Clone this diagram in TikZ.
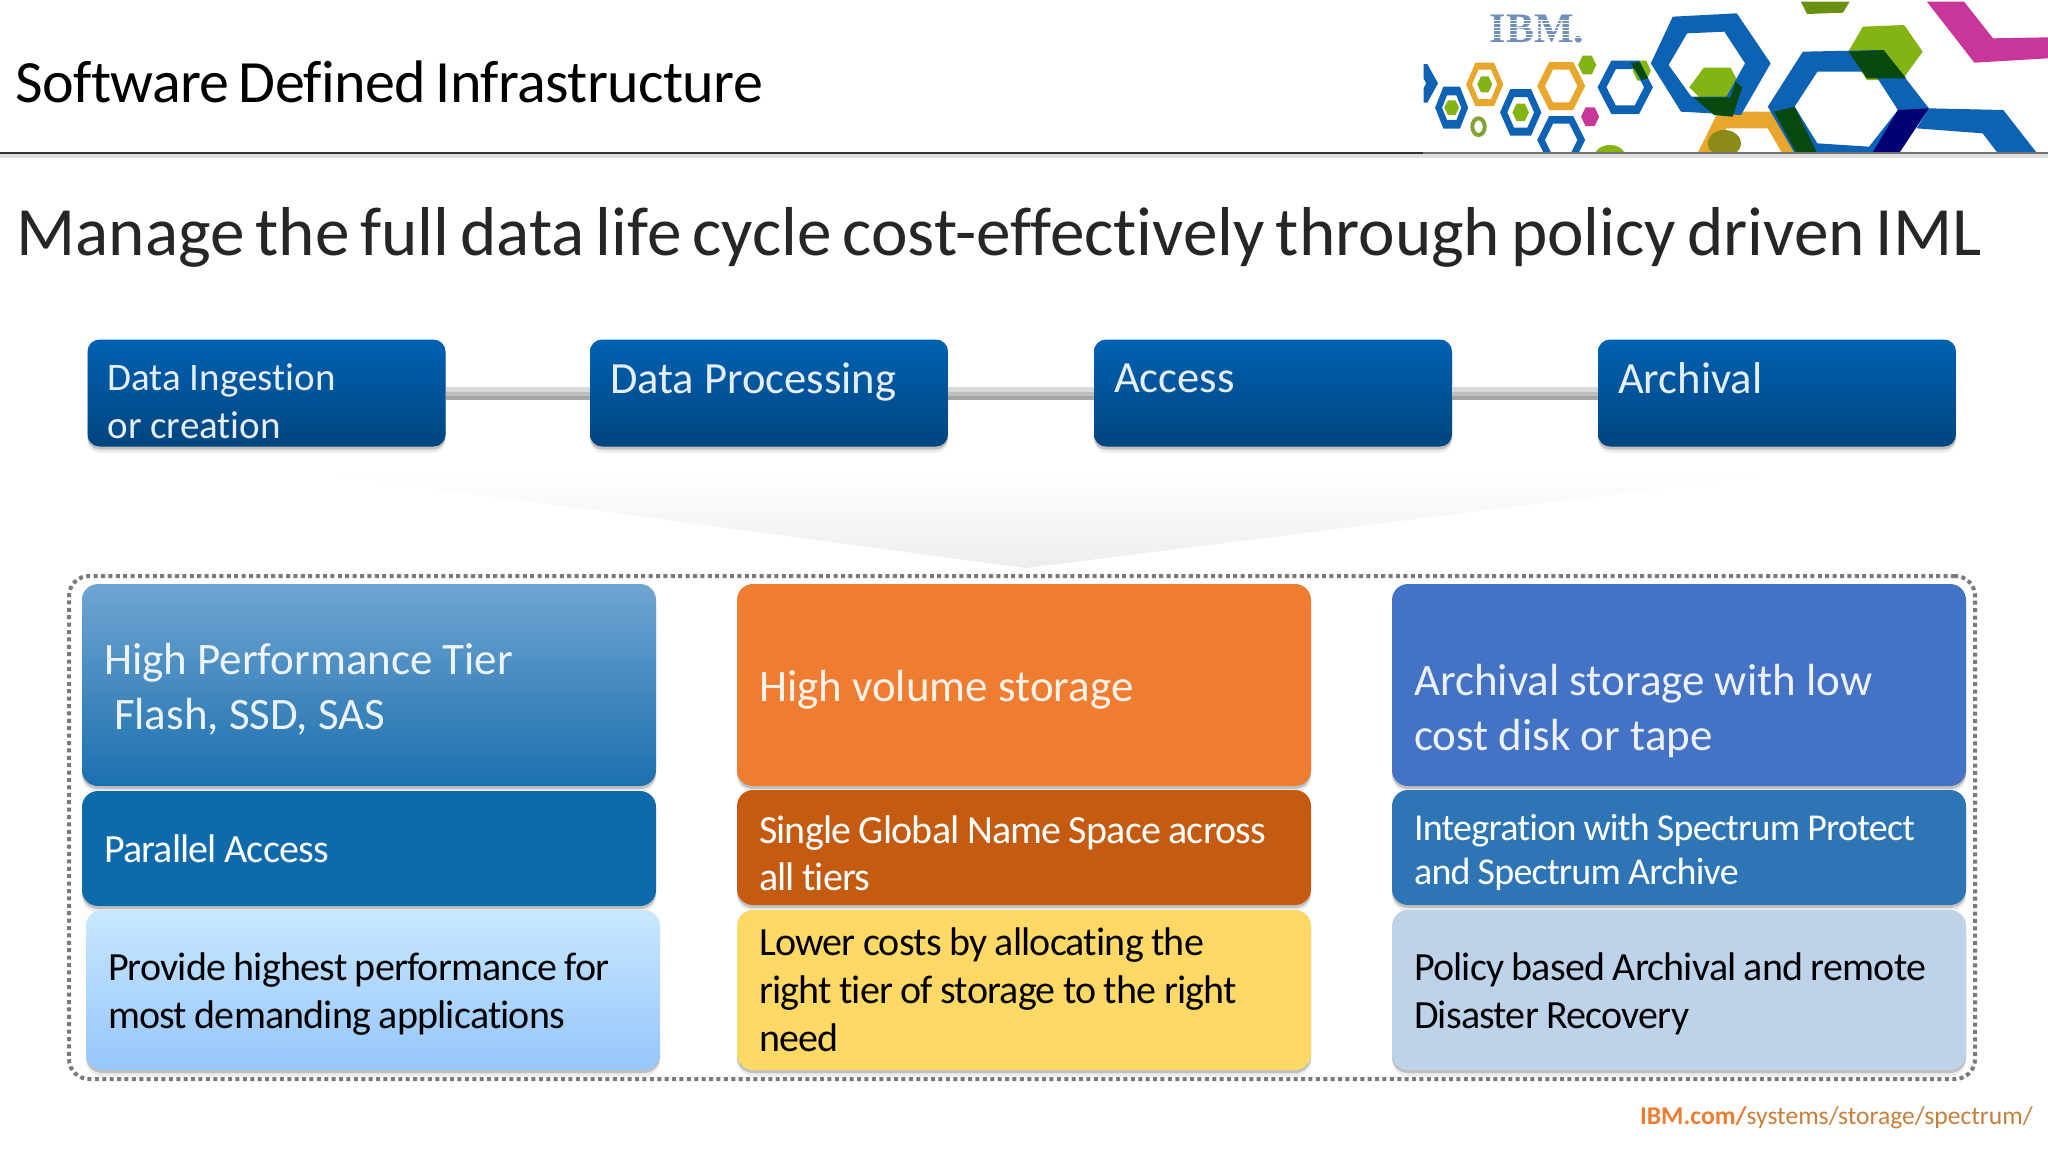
\documentclass[tikz,border=0pt]{standalone}
\usepackage{fontspec}
\setmainfont{Carlito}[Ligatures=NoCommon]
\newfontfamily\headfam{Carlito}[WordSpace=0.7,Ligatures=NoCommon]
\newfontfamily\tightfam{Carlito}[LetterSpace=-2,WordSpace=0.9,Ligatures=NoCommon]
\usetikzlibrary{shadows,calc}
\definecolor{lblue}{HTML}{0D62B4}
\definecolor{lorange}{HTML}{E8A62C}
\definecolor{lgreen}{HTML}{84B414}
\definecolor{ldark}{HTML}{07490F}
\definecolor{lmag}{HTML}{C8369A}
\definecolor{boxtop}{HTML}{0061B2}
\definecolor{boxbot}{HTML}{00457F}
\definecolor{hptop}{HTML}{6FA5D2}
\definecolor{hpbot}{HTML}{1C6FAE}
\definecolor{parc}{HTML}{0F6AAC}
\definecolor{bentop}{HTML}{C9E7FF}
\definecolor{benbot}{HTML}{96C6FB}
\definecolor{volc}{HTML}{EF7D31}
\definecolor{sgnc}{HTML}{C55A11}
\definecolor{costc}{HTML}{FFD966}
\definecolor{lowc}{HTML}{4472C4}
\definecolor{specc}{HTML}{2E75B6}
\definecolor{polc}{HTML}{BDD3EA}
\definecolor{urlc}{HTML}{C77F3C}
\definecolor{urlb}{HTML}{ED7D31}
\definecolor{ibmc}{HTML}{6F8FBF}
\newcommand{\hexpath}[4]{({#1-#3},#2) -- ({#1-#3/2},{#2-#4}) -- ({#1+#3/2},{#2-#4}) -- ({#1+#3},#2) -- ({#1+#3/2},{#2+#4}) -- ({#1-#3/2},{#2+#4}) -- cycle}
\newcommand{\hexring}[6]{\fill[#6,even odd rule] \hexpath{#1}{#2}{#3}{#4} \hexpath{#1}{#2}{#3*#5}{#4*#5};}
\newcommand{\hexfull}[5]{\fill[#5] \hexpath{#1}{#2}{#3}{#4};}
\newcommand{\onel}[1]{\mbox{#1}}
\newcommand{\pushdown}[1]{\mbox{}\\[#1]}
\newcommand{\tightfont}[2]{\tightfam\fontsize{#1}{#2}\selectfont}
\tikzset{
  softshadow/.style={drop shadow={shadow xshift=0pt,shadow yshift=-3pt,opacity=.08,fill=black},
                     drop shadow={shadow xshift=0pt,shadow yshift=-1.5pt,opacity=.18,fill=black}},
  topbox/.style={rounded corners=6pt,minimum height=53.5pt,text width=159pt,inner xsep=10pt,inner ysep=0pt,align=flush left,
    top color=boxtop,bottom color=boxbot,text=white,text opacity=.9,softshadow,font=\fontsize{22.3}{24}\selectfont},
  cell/.style={rounded corners=8pt,text width=265pt,inner xsep=11pt,inner ysep=0pt,align=flush left,softshadow},
  rowa/.style={cell,minimum height=101pt,text=white,text opacity=.9,font=\fontsize{22.5}{27.5}\selectfont},
  rowb/.style={cell,minimum height=57.5pt,text=white,font=\tightfont{20}{23.5}},
  rowc/.style={cell,minimum height=80pt,text=black,font=\tightfont{20}{24}},
  conn/.style={line width=6.5pt,draw=#1},
  heading/.style={anchor=west,inner sep=0pt,text=black},
}
\begin{document}
\begin{tikzpicture}[x=.5pt,y=-.5pt]
\useasboundingbox (0,0) rectangle (2048,1152);
\fill[white] (0,0) rectangle (2048,1152);
% logo
\begin{scope}[shift={(1400,0)},x=.20661pt,y=-.16667pt]
\clip (57,0) rectangle (1568,460);
\fill[lorange,even odd rule] (770,335) -- (900,335) -- (960,460) -- (720,460) -- cycle (790,385) -- (890,385) -- (925,460) -- (750,460) -- cycle;
\fill[lgreen] (1120,80) -- (1220,75) -- (1265,155) -- (1215,240) -- (1130,240) -- (1085,155) -- cycle;
\fill[lgreen] (735,203) -- (800,203) -- (825,262) -- (800,292) -- (725,292) -- (700,262) -- cycle;
\fill[lgreen!80!black] (970,5) -- (1088,5) -- (1072,38) -- (985,42) -- cycle;
\fill[lblue,even odd rule] (660,50) -- (815,40) -- (897,190) -- (825,345) -- (680,335) -- (607,190) -- cycle (695,100) -- (785,95) -- (835,190) -- (790,290) -- (705,290) -- (650,195) -- cycle;
\fill[lblue,even odd rule] (975,155) -- (1170,150) -- (1280,325) -- (1195,470) -- (960,470) -- (890,320) -- cycle (1010,215) -- (1145,215) -- (1205,330) -- (1135,440) -- (1010,430) -- (955,320) -- cycle;
\fill[lblue] (1280,325) -- (1460,330) -- (1545,465) -- (1450,465) -- (1410,400) -- (1250,385) -- cycle;
\fill[lmag] (1275,5) -- (1365,5) -- (1435,115) -- (1568,112) -- (1568,175) -- (1390,188) -- cycle;
\fill[ldark] (1085,155) -- (1170,150) -- (1225,235) -- (1130,235) -- cycle;
\fill[ldark] (710,292) -- (800,292) -- (812,245) -- (828,262) -- (805,350) -- (760,345) -- cycle;
\fill[ldark] (905,335) -- (955,320) -- (1010,460) -- (960,460) -- cycle;
\fill[blue!45!black] (1205,330) -- (1280,325) -- (1205,465) -- (1140,465) -- cycle;
\fill[lgreen!60!lorange!80!black] (785,430) ellipse [x radius=40,y radius=40];
\hexring{40}{250}{52}{58}{.45}{lblue}
\hexfull{40}{250}{18}{22}{lgreen}
\hexring{125}{323}{40}{63}{.58}{lblue}
\hexfull{125}{323}{18}{22}{lgreen}
\hexring{205}{253}{45}{65}{.68}{lorange}
\hexfull{205}{253}{18}{24}{lgreen}
\hexring{292}{337}{50}{70}{.65}{lblue}
\hexfull{292}{337}{20}{26}{lgreen}
\hexring{390}{258}{58}{72}{.68}{lorange}
\hexfull{453}{195}{22}{28}{lgreen}
\hexfull{585}{212}{22}{30}{lgreen}
\hexring{545}{262}{67}{80}{.68}{lblue}
\fill[ldark] (558,190) -- (580,185) -- (600,235) -- (585,240) -- cycle;
\hexfull{460}{350}{22}{28}{lmag}
\draw[lgreen!70!gray,line width=2pt] (190,380) ellipse [x radius=15,y radius=25];
\hexring{390}{420}{58}{72}{.68}{lblue}
\fill[lgreen] (508,470) ellipse [x radius=38,y radius=35];
\end{scope}
\node[anchor=center,inner sep=0pt,text=ibmc,font=\fontspec{Liberation Serif}\fontsize{21}{21}\selectfont\bfseries] (ibm) at (1537,29) {IBM.};
\foreach \yy in {20,23.5,27,30.5,34,37.5}{\draw[white,line width=.35pt] (1488,\yy) -- (1586,\yy);}
% title and rule
\fill[black!12] (0,154) rectangle (2048,158);
\draw[black!55,line width=1pt] (1423,153) -- (2048,153);
\draw[black!80!white,line width=1pt] (0,153) -- (1423,153);
\node[heading,font=\headfam\fontsize{30}{30}\selectfont\addfontfeature{LetterSpace=-1}] (title) at (15,82) {Software Defined Infrastructure};
\node[heading,text=black!85,font=\headfam\fontsize{34.6}{35}\selectfont] (sub) at (16,237) {Manage the full data life cycle cost-effectively through policy driven IML};
% funnel
\shade[top color=white,bottom color=black!7] (310,472) -- (1790,472) -- (1025,568) -- cycle;
% dotted frame
\node[draw=black!52,line width=2pt,dash pattern=on 2pt off 1.7pt,rounded corners=10pt,minimum width=953pt,minimum height=251.5pt,inner sep=0pt] (frame) at (1022,827.5) {};
% top row
\node[topbox,font=\fontsize{19.5}{24}\selectfont] (ingest) at (266.5,393) {\pushdown{-2.7pt}\onel{Data Ingestion}\\\onel{or creation}};
\node[topbox] (proc) at (769,393) {\onel{Data Processing}\\[-9pt]\mbox{}};
\node[topbox] (acc) at (1273,393) {\onel{Access}\\[-9pt]\mbox{}};
\node[topbox] (arch) at (1777,393) {\onel{Archival}\\[-9pt]\mbox{}};
\foreach \a/\b in {ingest/proc,proc/acc,acc/arch}{
  \draw[conn=black!35] (\a.east) -- (\b.west);
  \draw[conn=black!25,line width=4.5pt] ($(\a.east)+(0,-2)$) -- ($(\b.west)+(0,-2)$);
  \draw[conn=black!15,line width=2.5pt] ($(\a.east)+(0,-4)$) -- ($(\b.west)+(0,-4)$);
}
% column 1
\node[rowa,top color=hptop,bottom color=hpbot] (hp) at (369,685) {\pushdown{-7.5pt}\onel{High Performance Tier}\\\onel{\hspace*{5pt}Flash, SSD, SAS}};
\node[rowb,fill=parc] (par) at (369,848.5) {\onel{Parallel Access}};
\node[rowc,top color=bentop,bottom color=benbot] (hpben) at (373,990) {\pushdown{-6.4pt}\onel{Provide highest performance for}\\\onel{most demanding applications}};
% column 2
\node[rowa,fill=volc] (vol) at (1024,685) {\pushdown{-7.5pt}\onel{High volume storage}};
\node[rowb,fill=sgnc] (sgn) at (1024,847.5) {\pushdown{-3.9pt}\onel{Single Global Name Space across}\\\onel{all tiers}};
\node[rowc,fill=costc] (cost) at (1024,990) {\onel{Lower costs by allocating the}\\\onel{right tier of storage to the right}\\\onel{need}};
% column 3
\node[rowa,fill=lowc] (low) at (1679,685) {\pushdown{14.5pt}\onel{Archival storage with low}\\\onel{cost disk or tape}};
\node[rowb,fill=specc,font=\tightfont{19}{22}] (spec) at (1679,847.5) {\pushdown{-4pt}\onel{Integration with Spectrum Protect}\\\onel{and Spectrum Archive}};
\node[rowc,fill=polc] (pol) at (1679,990) {\pushdown{-6.4pt}\onel{Policy based Archival and remote}\\\onel{Disaster Recovery}};
% url
\node[anchor=east,inner sep=0pt,text=urlc,font=\fontsize{12.8}{13}\selectfont] (url) at (2033,1118) {\textbf{\textcolor{urlb}{IBM.com/}}systems/storage/spectrum/};
\end{tikzpicture}
\end{document}
